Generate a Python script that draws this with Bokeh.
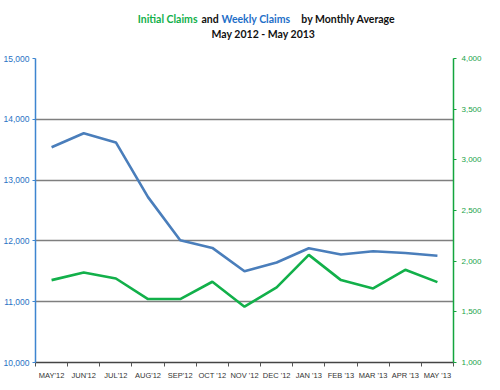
import numpy as np
from bokeh.plotting import figure
from bokeh.layouts import column
from bokeh.models import Range1d, LinearAxis, FixedTicker, NumeralTickFormatter
from bokeh.core.properties import value
from bokeh.embed import file_html
from bokeh.resources import INLINE

months = ["MAY'12", "JUN'12", "JUL'12", "AUG'12", "SEP'12", "OCT '12", "NOV '12",
          "DEC '12", "JAN '13", "FEB '13", "MAR '13", "APR '13", "MAY '13"]
weekly_claims = [13540, 13770, 13620, 12720, 12010, 11885, 11500, 11645, 11880, 11775, 11830, 11800, 11755]
initial_claims = [1813, 1888, 1829, 1626, 1626, 1797, 1551, 1741, 2062, 1813, 1731, 1915, 1793]
left_ticks = [10000, 11000, 12000, 13000, 14000, 15000]
right_ticks = [1000, 1500, 2000, 2500, 3000, 3500, 4000]
title_parts = ["Initial Claims", "and", "Weekly Claims", "by Monthly Average"]
subtitle = "May 2012 - May 2013"

BLUE = "#4a7ebb"
GREEN = "#12b04a"
AXBLUE = "#3d85d0"
AXGREEN = "#13a53d"
W = 484
TH = 51

# ---- title strip ----
t = figure(frame_width=W, frame_height=TH, output_backend="svg", toolbar_location=None,
           x_range=Range1d(0, W), y_range=Range1d(0, TH),
           min_border_left=0, min_border_right=0, min_border_top=0, min_border_bottom=0,
           x_axis_type=None, y_axis_type=None)
t.outline_line_color = None
t.grid.grid_line_color = None
tfont = value("Lato")
t.text(x=[162, 174.5, 186, 360], y=[33] * 4, text=title_parts,
       text_color=[GREEN, "#111111", "#1f6fc8", "#111111"],
       text_font=tfont, text_font_style="bold", text_font_size="10.5px",
       text_baseline="middle", text_align=["right", "center", "left", "right"])
t.text(x=[228], y=[18], text=[subtitle], text_color="#111111",
       text_font=tfont, text_font_style="bold", text_font_size="10.5px",
       text_baseline="middle", text_align="center")

# ---- chart ----
idx = np.arange(len(months))
p = figure(width=W, height=331, output_backend="svg", toolbar_location=None,
           x_range=Range1d(-0.5, len(months) - 0.5), y_range=Range1d(10000, 15000),
           min_border_left=28, min_border_right=26, min_border_top=7, min_border_bottom=18)
p.outline_line_color = None
p.extra_y_ranges = {"right": Range1d(1000, 4000)}

p.line(idx, weekly_claims, line_color=BLUE, line_width=2.6)
p.line(idx, initial_claims, line_color=GREEN, line_width=2.6, y_range_name="right")

xa = p.xaxis[0]
xa.ticker = FixedTicker(ticks=list(idx), minor_ticks=list(idx - 0.5) + [len(months) - 0.5])
xa.major_label_overrides = {int(i): m for i, m in zip(idx, months)}
xa.major_tick_line_color = None
xa.major_tick_out = 0
xa.major_tick_in = 0
xa.minor_tick_in = 0
xa.minor_tick_out = 4
xa.minor_tick_line_color = "#555555"
xa.axis_line_color = "#444444"
xa.axis_line_width = 1.5
xa.major_label_text_font = "Liberation Sans"
xa.major_label_text_font_size = "7.5px"
xa.major_label_text_color = "#333333"
xa.major_label_standoff = 4

ya = p.yaxis[0]
ya.ticker = FixedTicker(ticks=left_ticks)
ya.formatter = NumeralTickFormatter(format="0,0")
ya.axis_line_color = AXBLUE
ya.axis_line_width = 1.5
ya.major_tick_line_color = AXBLUE
ya.major_tick_in = 0
ya.major_tick_out = 3
ya.minor_tick_line_color = None
ya.major_label_text_color = "#2a72c4"
ya.major_label_text_font = "Liberation Sans"
ya.major_label_text_font_size = "8.5px"
ya.major_label_standoff = 3

ra = LinearAxis(y_range_name="right")
ra.ticker = FixedTicker(ticks=right_ticks)
ra.formatter = NumeralTickFormatter(format="0,0")
ra.axis_line_color = AXGREEN
ra.axis_line_width = 1.5
ra.major_tick_line_color = AXGREEN
ra.major_tick_in = 0
ra.major_tick_out = 3
ra.minor_tick_line_color = None
ra.major_label_text_color = "#1aa34a"
ra.major_label_text_font = "Liberation Sans"
ra.major_label_text_font_size = "8px"
ra.major_label_standoff = 5
p.add_layout(ra, "right")

p.xgrid.grid_line_color = None
p.ygrid.ticker = FixedTicker(ticks=left_ticks[1:])
p.ygrid.grid_line_color = "#7f7f7f"
p.ygrid.grid_line_width = 1.5

layout = column(t, p, spacing=0)
open("out.html", "w").write(file_html(layout, INLINE))
